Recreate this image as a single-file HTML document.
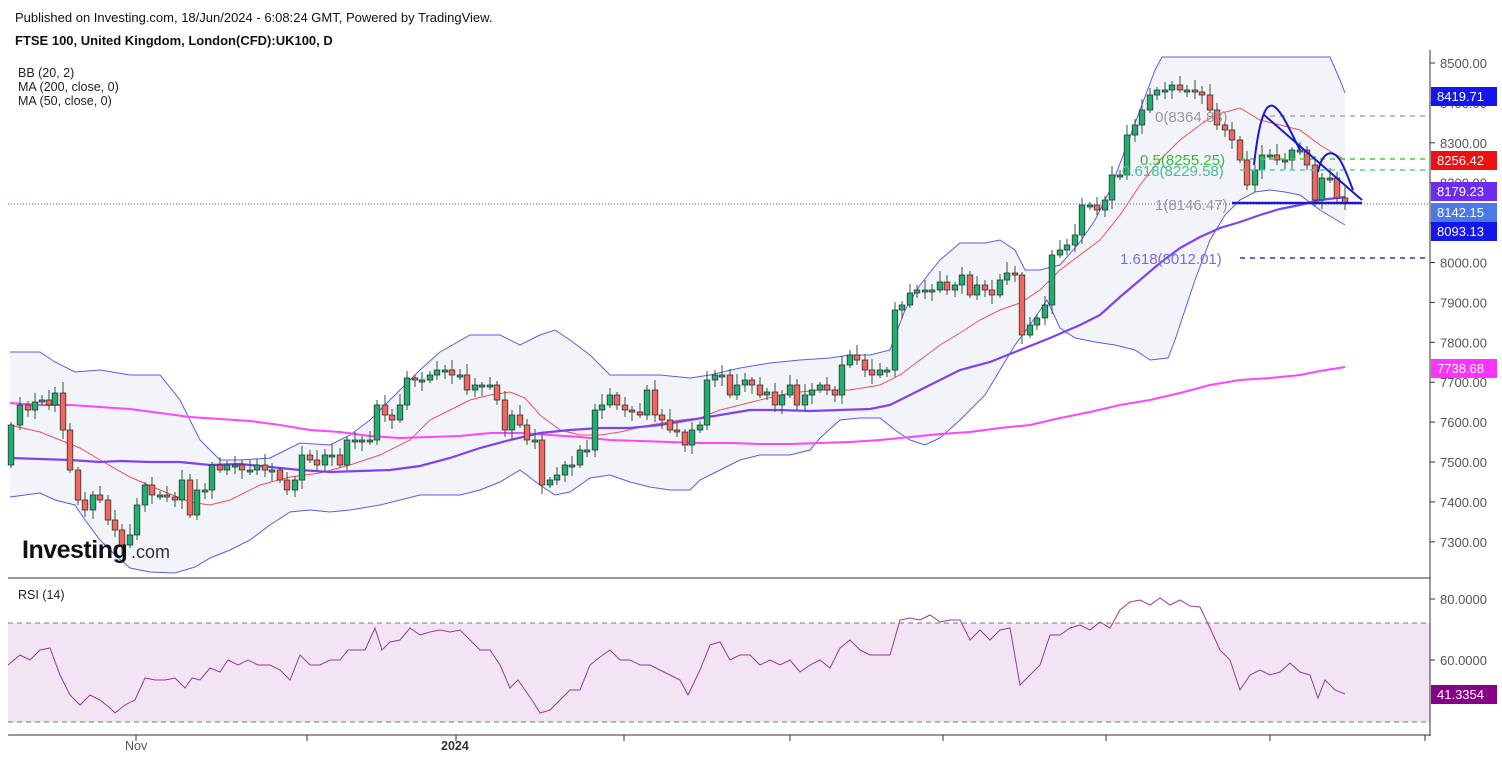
<!DOCTYPE html>
<html><head><meta charset="utf-8">
<style>
html,body{margin:0;padding:0;background:#fff;}
body{width:1502px;height:761px;overflow:hidden;font-family:"Liberation Sans",sans-serif;}
</style></head>
<body>
<svg id="s" width="1502" height="761" xmlns="http://www.w3.org/2000/svg" style="position:absolute;left:0;top:0">
<text x="15" y="22" font-size="13" fill="#111">Published on Investing.com, 18/Jun/2024 - 6:08:24 GMT, Powered by TradingView.</text>
<text x="15" y="45" font-size="13" font-weight="bold" fill="#111">FTSE 100, United Kingdom, London(CFD):UK100, D</text>
<text x="18" y="77" font-size="12.5" fill="#222">BB (20, 2)</text>
<text x="18" y="91" font-size="12.5" fill="#222">MA (200, close, 0)</text>
<text x="18" y="105" font-size="12.5" fill="#222">MA (50, close, 0)</text>
<g id="g"></g>
</svg>
<script>
(function(){
var NS="http://www.w3.org/2000/svg",g=document.getElementById('g');
function el(t,a,txt){var e=document.createElementNS(NS,t);for(var k in a)e.setAttribute(k,a[k]);if(txt!=null)e.textContent=txt;g.appendChild(e);return e;}
function pts(a){var s=[];for(var i=0;i<a.length;i+=2)s.push(a[i]+','+a[i+1]);return s.join(' ');}
var up=[10,352,40,352,55,362,75,372,100,370,130,375,160,375,180,400,200,440,220,460,240,460,270,458,300,443,330,445,350,435,370,420,390,400,420,370,440,352,470,335,500,335,520,345,540,335,555,330,570,340,590,355,610,375,640,375,660,375,690,378,710,375,740,368,770,363,800,360,830,358,850,355,870,355,890,350,905,310,920,285,940,260,960,243,985,243,1000,240,1015,250,1025,270,1040,270,1060,265,1080,242,1095,220,1110,190,1125,150,1140,110,1155,70,1162,57,1330,57,1340,80,1345,93];
var lo=[10,497,40,493,55,500,75,505,85,520,100,540,115,555,130,568,150,572,175,573,195,567,210,558,230,550,250,540,270,525,290,512,310,510,330,512,350,510,380,505,400,500,420,495,440,495,460,495,480,490,500,482,520,470,540,485,555,495,570,492,590,478,610,475,630,482,650,487,670,490,690,490,700,480,720,470,740,460,760,455,790,455,810,450,820,438,840,420,860,418,880,418,895,430,910,440,925,445,940,438,960,420,985,395,1000,370,1015,345,1030,325,1047,300,1060,328,1075,338,1095,342,1115,345,1135,350,1150,360,1168,358,1175,340,1185,310,1195,280,1210,240,1225,215,1240,200,1255,192,1270,190,1285,192,1300,195,1320,210,1345,225];
var lor=[];for(var i=lo.length-2;i>=0;i-=2)lor.push(lo[i],lo[i+1]);
el('polygon',{points:pts(up.concat(lor)),fill:'#f3f3fa'});
el('polyline',{points:pts(up),fill:'none',stroke:'#5a5af0','stroke-width':1});
el('polyline',{points:pts(lo),fill:'none',stroke:'#5a5af0','stroke-width':1});
el('rect',{x:8,y:623,width:1422,height:99,fill:'#f2e4f2'});
el('line',{x1:8,y1:623,x2:1430,y2:623,stroke:'#777','stroke-dasharray':'5,4'});
el('line',{x1:8,y1:722,x2:1430,y2:722,stroke:'#777','stroke-dasharray':'5,4'});
var ma200=[10,403,40,405,70,405,100,407,130,409,160,413,190,417,220,419,250,421,280,425,310,430,340,432,370,436,400,438,430,437,460,436,490,433,520,433,550,435,580,437,610,440,640,441,670,442,700,443,730,443,760,444,790,444,820,443,850,442,880,440,910,437,940,434,970,432,1000,428,1030,425,1060,418,1090,412,1120,405,1150,400,1180,393,1210,385,1240,380,1270,378,1300,375,1320,371,1345,367];
el('polyline',{points:pts(ma200),fill:'none',stroke:'#ff44ff','stroke-width':2});
var basis=[10,425,40,432,60,440,80,448,100,460,130,477,160,490,190,502,210,505,230,500,260,485,290,477,320,473,350,465,380,455,410,440,430,420,450,410,470,400,490,395,510,392,525,398,540,415,560,430,580,435,600,435,620,432,650,425,680,420,700,418,720,410,740,405,760,400,790,393,820,390,850,390,880,385,900,375,920,360,940,345,960,333,980,320,1000,310,1020,303,1040,290,1060,270,1080,255,1100,240,1120,215,1140,185,1160,160,1180,140,1200,125,1215,115,1240,108,1260,120,1280,125,1300,130,1320,145,1345,160];
el('polyline',{points:pts(basis),fill:'none',stroke:'#f05050','stroke-width':1});
var ma50=[10,458,40,459,70,460,100,462,120,461,150,462,180,462,210,465,240,464,270,467,300,470,330,472,360,471,390,470,420,466,450,458,480,448,510,440,540,433,570,430,600,428,630,428,660,425,690,420,720,415,750,410,780,410,810,411,840,410,870,409,890,405,910,395,930,385,960,370,990,362,1020,350,1050,338,1080,325,1100,315,1120,297,1140,280,1160,263,1180,248,1200,237,1220,228,1240,222,1260,215,1280,209,1300,205,1320,200,1345,197];
el('polyline',{points:pts(ma50),fill:'none',stroke:'#7a44f0','stroke-width':2.2});
var c=[11,425,20,405,28,410,35,402,42,400,49,405,55,393,63,430,70,470,78,500,85,510,93,495,100,500,108,520,115,530,122,545,130,535,137,505,145,485,152,495,160,495,167,497,175,500,182,480,190,515,197,490,205,490,212,465,220,470,227,465,235,465,242,470,250,470,257,465,265,470,272,470,280,480,287,490,295,480,302,455,310,460,317,465,325,455,332,455,340,465,347,440,355,440,362,440,370,440,377,405,385,415,392,420,400,405,407,378,415,380,422,380,430,375,437,370,445,370,452,375,460,375,467,390,475,385,482,385,490,385,497,400,505,430,512,415,520,425,527,440,535,440,542,485,550,480,557,475,565,465,572,465,580,450,587,450,595,410,602,405,610,395,617,405,625,410,632,412,640,415,647,390,655,415,662,420,670,430,677,432,685,445,692,430,700,425,707,380,715,375,722,375,730,395,737,385,745,380,752,385,760,395,767,392,775,405,782,395,790,385,797,405,805,395,812,390,820,385,827,390,835,395,842,365,850,355,857,360,865,370,872,375,880,370,887,370,895,310,902,305,910,293,917,290,925,290,932,290,940,282,947,290,955,285,962,275,970,295,977,285,985,290,992,295,1000,280,1007,273,1015,275,1022,335,1030,325,1037,318,1045,305,1052,255,1060,250,1067,245,1075,235,1082,205,1090,205,1097,210,1105,200,1112,175,1120,175,1127,135,1135,125,1142,110,1150,95,1157,90,1165,90,1172,85,1180,90,1187,90,1195,92,1202,95,1210,110,1217,125,1225,130,1232,140,1240,160,1247,185,1255,170,1262,155,1270,155,1277,160,1285,160,1292,150,1300,150,1307,165,1315,200,1322,178,1330,178,1337,198,1345,203];
var prev=465;
for(var j=0;j<c.length;j+=2){var x=c[j],cl=c[j+1],op=prev;if(Math.abs(op-cl)<2)op=cl+2;
var bt=Math.min(op,cl),bb=Math.max(op,cl);var wt=bt-3-((j*7)%9),wb=bb+3+((j*5)%8);
var green=cl<op;
el('line',{x1:x,y1:wt,x2:x,y2:wb,stroke:'#2b5a3c','stroke-width':1});
el('rect',{x:x-2.8,y:bt,width:5.6,height:Math.max(bb-bt,1.5),fill:green?'#1fb070':'#f0675e',stroke:'#333','stroke-width':0.8});
prev=cl;}
el('line',{x1:1270,y1:116,x2:1425,y2:116,stroke:'#aaa','stroke-dasharray':'5,5','stroke-width':1.5});
el('line',{x1:1240,y1:159,x2:1425,y2:159,stroke:'#44cc44','stroke-dasharray':'5,5','stroke-width':1.5});
el('line',{x1:1240,y1:170,x2:1425,y2:170,stroke:'#55ccaa','stroke-dasharray':'5,5','stroke-width':1.5});
el('line',{x1:1240,y1:258,x2:1425,y2:258,stroke:'#3333bb','stroke-dasharray':'5,5','stroke-width':1.5});
el('line',{x1:8,y1:204,x2:1430,y2:204,stroke:'#5577ee','stroke-dasharray':'1,2','stroke-width':1.2});
el('line',{x1:1232,y1:203,x2:1362,y2:203,stroke:'#1a1acc','stroke-width':2.5});
el('text',{x:1155,y:122,'font-size':15,fill:'#999'},'0(8364.83)');
el('text',{x:1140,y:165,'font-size':15,fill:'#33bb33'},'0.5(8255.25)');
el('text',{x:1122,y:176,'font-size':15,fill:'#44bb99'},'0.618(8229.58)');
el('text',{x:1155,y:210,'font-size':15,fill:'#999'},'1(8146.47)');
el('text',{x:1120,y:264,'font-size':15,fill:'#7070dd'},'1.618(8012.01)');
el('path',{d:'M1254,165 C1260,110 1268,100 1276,108 C1284,115 1292,135 1300,150',fill:'none',stroke:'#1a1acc','stroke-width':2});
el('path',{d:'M1318,172 C1322,152 1332,148 1340,160 C1345,168 1349,180 1353,190',fill:'none',stroke:'#1a1acc','stroke-width':2});
el('line',{x1:1263,y1:114,x2:1362,y2:200,stroke:'#1a1acc','stroke-width':2});
el('line',{x1:1430,y1:50,x2:1430,y2:736,stroke:'#333'});
el('line',{x1:8,y1:578,x2:1430,y2:578,stroke:'#333'});
el('line',{x1:8,y1:735,x2:1430,y2:735,stroke:'#333'});
el('text',{x:18,y:599,'font-size':12.5,fill:'#222'},'RSI (14)');
var pl=['8500.00','8400.00','8300.00','8200.00','8100.00','8000.00','7900.00','7800.00','7700.00','7600.00','7500.00','7400.00','7300.00'];
for(var k2=0;k2<pl.length;k2++){var y=63+k2*39.9;el('line',{x1:1430,y1:y,x2:1435,y2:y,stroke:'#333'});el('text',{x:1440,y:y+5,'font-size':13,fill:'#555'},pl[k2]);}
[['80.0000',599],['60.0000',660]].forEach(function(a){el('line',{x1:1430,y1:a[1],x2:1435,y2:a[1],stroke:'#333'});el('text',{x:1440,y:a[1]+5,'font-size':13,fill:'#555'},a[0]);});
function lab(t,y,bg){el('rect',{x:1431,y:y-9,width:66,height:19,fill:bg});el('text',{x:1437,y:y+5,'font-size':13,fill:'#fff'},t);}
lab('8419.71',96,'#1515ee');lab('8256.42',160,'#ee1111');lab('8179.23',191,'#6d2df0');lab('8142.15',212,'#4a7ae8');lab('8093.13',231,'#1515ee');lab('7738.68',368,'#ff33ff');lab('41.3354',694,'#880088');
[136,307,456,624,790,943,1106,1270,1425].forEach(function(x){el('line',{x1:x,y1:735,x2:x,y2:741,stroke:'#333'});});
el('text',{x:125,y:750,'font-size':12.5,fill:'#555'},'Nov');
el('text',{x:441,y:750,'font-size':12.5,'font-weight':'bold',fill:'#333'},'2024');
var r=[8,665,20,655,30,660,40,650,50,648,60,675,70,695,80,705,90,695,100,700,110,708,115,713,125,705,135,700,145,678,155,680,165,680,175,678,185,688,192,678,200,680,210,668,220,672,228,660,238,665,248,660,258,665,270,665,280,670,290,680,300,655,310,665,320,665,330,660,340,660,348,650,356,650,365,650,375,628,382,650,390,642,400,640,410,628,420,635,430,632,440,630,450,632,460,630,470,640,480,650,490,650,500,665,510,688,518,680,525,690,532,700,540,713,550,710,560,700,570,690,580,690,590,665,600,657,610,650,620,660,630,660,640,665,650,665,660,670,670,675,680,680,688,695,700,670,710,645,720,642,730,660,740,655,750,655,760,665,770,660,780,665,790,660,800,672,810,665,820,660,830,668,840,648,850,640,860,650,870,655,880,655,890,655,900,620,910,618,920,620,930,615,940,622,950,620,960,620,970,640,980,630,990,640,1000,630,1010,628,1020,685,1030,675,1040,665,1050,635,1060,635,1070,628,1080,625,1090,630,1100,622,1110,628,1120,610,1130,602,1140,600,1150,605,1160,598,1170,605,1180,600,1190,606,1200,607,1210,628,1220,650,1230,660,1240,690,1250,675,1260,670,1270,675,1280,672,1290,663,1300,672,1310,675,1318,698,1325,680,1335,690,1345,694];
el('polyline',{points:pts(r),fill:'none',stroke:'#9a3a9a','stroke-width':1});
el('text',{x:22,y:558,'font-size':25,'font-weight':'bold',fill:'#111','letter-spacing':'-0.5'},'Investing');
el('text',{x:131,y:558,'font-size':18,fill:'#333'},'.com');
})();
</script>
</body></html>
